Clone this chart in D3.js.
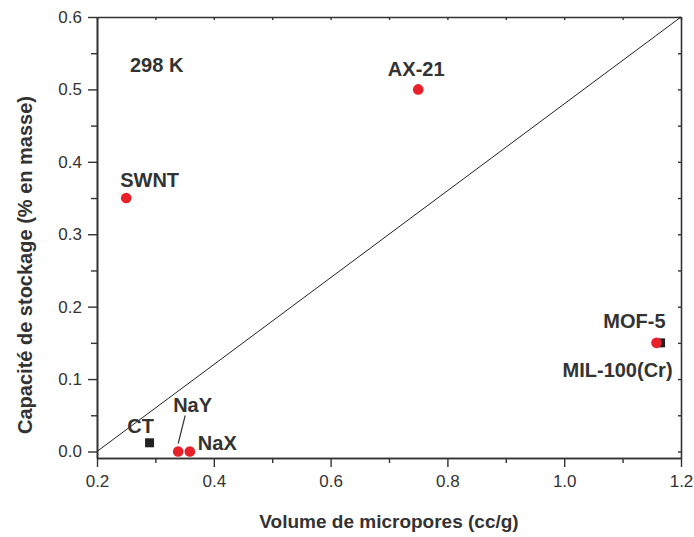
<!DOCTYPE html>
<html><head><meta charset="utf-8">
<script src="https://cdn.jsdelivr.net/npm/d3@7"></script>
<style>body{margin:0;background:#fff}svg{display:block}text{font-family:Arial,"Liberation Sans",Helvetica,sans-serif}</style>
</head><body>
<svg id="c" width="694" height="537"></svg>
<script>
// Data
const circleNames = ["SWNT", "AX-21", "MOF-5", "NaY", "NaX"];
const circleX = [0.25, 0.75, 1.158, 0.339, 0.359];
const circleY = [0.35, 0.50, 0.15, 0.0, 0.0];
const squareNames = ["CT", "MIL-100(Cr)"];
const squareX = [0.29, 1.165];
const squareY = [0.012, 0.15];
const xTicks = [0.2, 0.4, 0.6, 0.8, 1.0, 1.2];
const yTicks = [0.0, 0.1, 0.2, 0.3, 0.4, 0.5, 0.6];
const diagX = [0.2, 1.2];
const diagY = [0.0, 0.6];

const svg = d3.select("#c");
const L = 97, R = 681, T = 17, B = 458;
const x = d3.scaleLinear().domain([0.2, 1.2]).range([L, R]);
const y = d3.scaleLinear().domain([-0.009, 0.6]).range([B, T]);
const ink = "#333";

function styleAxis(g) {
  g.selectAll("path.domain").attr("stroke", ink).attr("stroke-width", 1.6);
  g.selectAll(".tick line").attr("stroke", ink).attr("stroke-width", 1.4);
  g.selectAll("text").attr("fill", ink).attr("font-size", 17)
    .style("font-family", "Arial, 'Liberation Sans', sans-serif");
}

// minor ticks
const xMinor = d3.range(0.3, 1.2, 0.2);
const yMinor = d3.range(0.05, 0.6, 0.1);
svg.append("g").attr("transform", `translate(0,${B})`)
  .call(d3.axisBottom(x).tickValues(xMinor).tickSize(5).tickFormat("").tickSizeOuter(0))
  .call(styleAxis);
svg.append("g").attr("transform", `translate(${L},0)`)
  .call(d3.axisLeft(y).tickValues(yMinor).tickSize(6).tickFormat("").tickSizeOuter(0))
  .call(styleAxis);

// top and right
svg.append("g").attr("transform", `translate(0,${T})`)
  .call(d3.axisBottom(x).tickValues(d3.range(0.2, 1.21, 0.1)).tickSize(3).tickFormat("").tickSizeOuter(0))
  .call(styleAxis);
svg.append("g").attr("transform", `translate(${R},0)`)
  .call(d3.axisLeft(y).tickValues(d3.range(0, 0.61, 0.05)).tickSize(3).tickFormat("").tickSizeOuter(0))
  .call(styleAxis);

// major axes
svg.append("g").attr("transform", `translate(0,${B})`)
  .call(d3.axisBottom(x).tickValues(xTicks).tickSize(9).tickSizeOuter(0).tickPadding(8).tickFormat(d3.format(".1f")))
  .call(styleAxis);
svg.append("g").attr("transform", `translate(${L},0)`)
  .call(d3.axisLeft(y).tickValues(yTicks).tickSize(9).tickSizeOuter(0).tickPadding(6).tickFormat(d3.format(".1f")))
  .call(styleAxis);

// diagonal
svg.append("line")
  .attr("x1", x(diagX[0])).attr("y1", y(diagY[0]))
  .attr("x2", x(diagX[1])).attr("y2", y(diagY[1]))
  .attr("stroke", "#222").attr("stroke-width", 1);

// squares
const sq = 9;
svg.selectAll("rect.pt").data(squareX).join("rect").attr("class", "pt")
  .attr("x", (d) => x(d) - sq / 2)
  .attr("y", (d, i) => y(squareY[i]) - sq / 2)
  .attr("width", sq).attr("height", sq).attr("fill", "#222");

// circles
svg.selectAll("circle.pt").data(circleX).join("circle").attr("class", "pt")
  .attr("cx", (d) => x(d)).attr("cy", (d, i) => y(circleY[i]))
  .attr("r", 5.3).attr("fill", "#e8202a");

// labels
const lab = (tx, ty, s, anchor) => svg.append("text").attr("x", tx).attr("y", ty)
  .attr("text-anchor", anchor || "start").attr("font-size", 20).attr("font-weight", "bold")
  .attr("fill", ink).text(s);

const cx = (i) => x(circleX[i]), cy = (i) => y(circleY[i]);
const sx = (i) => x(squareX[i]), sy = (i) => y(squareY[i]);
lab(cx(0) - 6, cy(0) - 11, circleNames[0]);
lab(cx(1) - 2, cy(1) - 13, circleNames[1], "middle");
lab(cx(2) - 22, cy(2) - 15, circleNames[2], "middle");
lab(cx(3) - 5, cy(3) - 39, circleNames[3]);
lab(cx(4) + 8, cy(4) - 1, circleNames[4]);
lab(sx(0) - 9, sy(0) - 10, squareNames[0], "middle");
lab(sx(1) + 12, sy(1) + 34, squareNames[1], "end");
lab(130, 72, "298 K");

// NaY leader
svg.append("line")
  .attr("x1", cx(3)).attr("y1", cy(3) - 8)
  .attr("x2", cx(3) + 7).attr("y2", cy(3) - 36)
  .attr("stroke", ink).attr("stroke-width", 1.2);

// axis titles
svg.append("text").attr("x", 389).attr("y", 528).attr("text-anchor", "middle")
  .attr("font-size", 19).attr("font-weight", "bold").attr("fill", ink)
  .text("Volume de micropores (cc/g)");
svg.append("text").attr("transform", "translate(32,265) rotate(-90)")
  .attr("text-anchor", "middle")
  .attr("font-size", 20).attr("font-weight", "bold").attr("fill", ink)
  .text("Capacité de stockage (% en masse)");
</script>
</body></html>
